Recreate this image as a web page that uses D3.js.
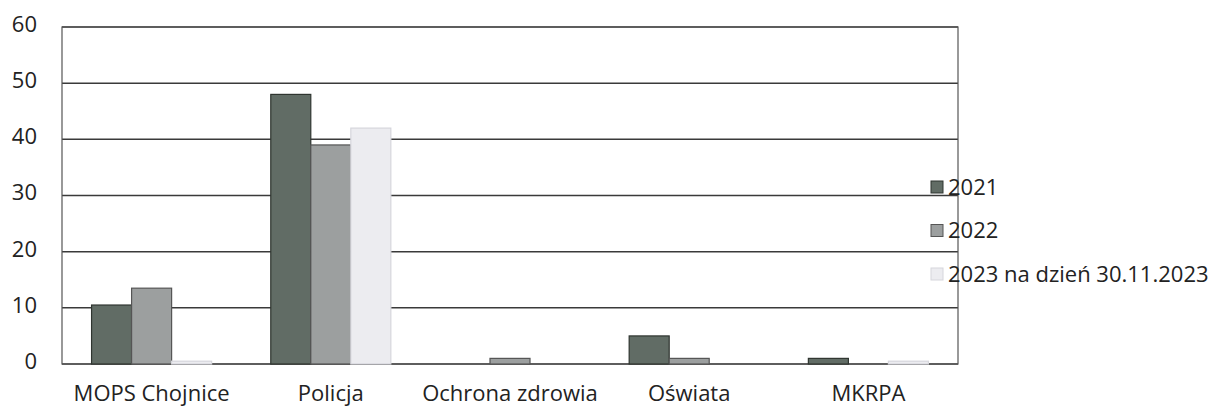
<!DOCTYPE html>
<html><head><meta charset="utf-8">
<script src="https://cdn.jsdelivr.net/npm/d3@7"></script>
<style>body{margin:0;background:#fff}svg{display:block}text{font-family:"Open Sans","Noto Sans",sans-serif;fill:#222}</style>
</head><body><svg id="c" width="1221" height="415"></svg>
<script>
const categories = ["MOPS Chojnice","Policja","Ochrona zdrowia","Oświata","MKRPA"];
const seriesNames = ["2021","2022","2023 na dzień 30.11.2023"];
const v2021 = [10.5, 48, 0, 5, 1];
const v2022 = [13.5, 39, 1, 1, 0];
const v2023 = [0.5, 42, 0, 0, 0.5];
const yTicks = [0,10,20,30,40,50,60];
const colors = ["#616c65","#9c9f9f","#ececf0"];
const strokes = ["#2f3530","#555","#d6d6dc"];

const svg = d3.select("#c");
const m = {l:62, r:958, t:27, b:364};
const x0 = d3.scaleBand().domain(categories).range([m.l,m.r]).paddingInner(0.33).paddingOuter(0.165);
const x1 = d3.scaleBand().domain(seriesNames).range([0,x0.bandwidth()]);
const y = d3.scaleLinear().domain([0,60]).range([m.b,m.t]);
const series = [v2021,v2022,v2023];

svg.append("g").selectAll("line").data(yTicks).join("line")
  .attr("x1",m.l).attr("x2",m.r).attr("y1",d=>y(d)).attr("y2",d=>y(d))
  .attr("stroke","#3a3a3a").attr("stroke-width",1.5);
svg.append("rect").attr("x",m.l).attr("y",m.t).attr("width",m.r-m.l).attr("height",m.b-m.t)
  .attr("fill","none").attr("stroke","#555").attr("stroke-width",1.2);

const g = svg.append("g");
categories.forEach((c,i)=>{
  series.forEach((s,j)=>{
    if(s[i]<=0) return;
    g.append("rect").attr("x",x0(c)+x1(seriesNames[j])).attr("y",y(s[i]))
      .attr("width",x1.bandwidth()).attr("height",y(0)-y(s[i]))
      .attr("fill",colors[j]).attr("stroke",strokes[j]).attr("stroke-width",1.2);
  });
});

const ya = svg.append("g").attr("transform",`translate(${m.l-25},0)`)
  .call(d3.axisLeft(y).tickValues(yTicks).tickSize(0).tickPadding(0));
ya.select(".domain").remove();
ya.selectAll("text").style("font-size","22px").attr("dy","0.2em");

const xa = svg.append("g").attr("transform",`translate(0,${m.b})`)
  .call(d3.axisBottom(x0).tickSize(0).tickPadding(21));
xa.select(".domain").remove();
xa.selectAll("text").style("font-size","22px");

const lg = svg.append("g");
seriesNames.forEach((s,j)=>{
  const yy = 187 + j*43.5;
  lg.append("rect").attr("x",931).attr("y",yy-6).attr("width",12).attr("height",12)
    .attr("fill",colors[j]).attr("stroke",strokes[j]);
  lg.append("text").attr("x",948).attr("y",yy).attr("dy","0.35em").style("font-size","22px").text(s);
});
</script></body></html>
